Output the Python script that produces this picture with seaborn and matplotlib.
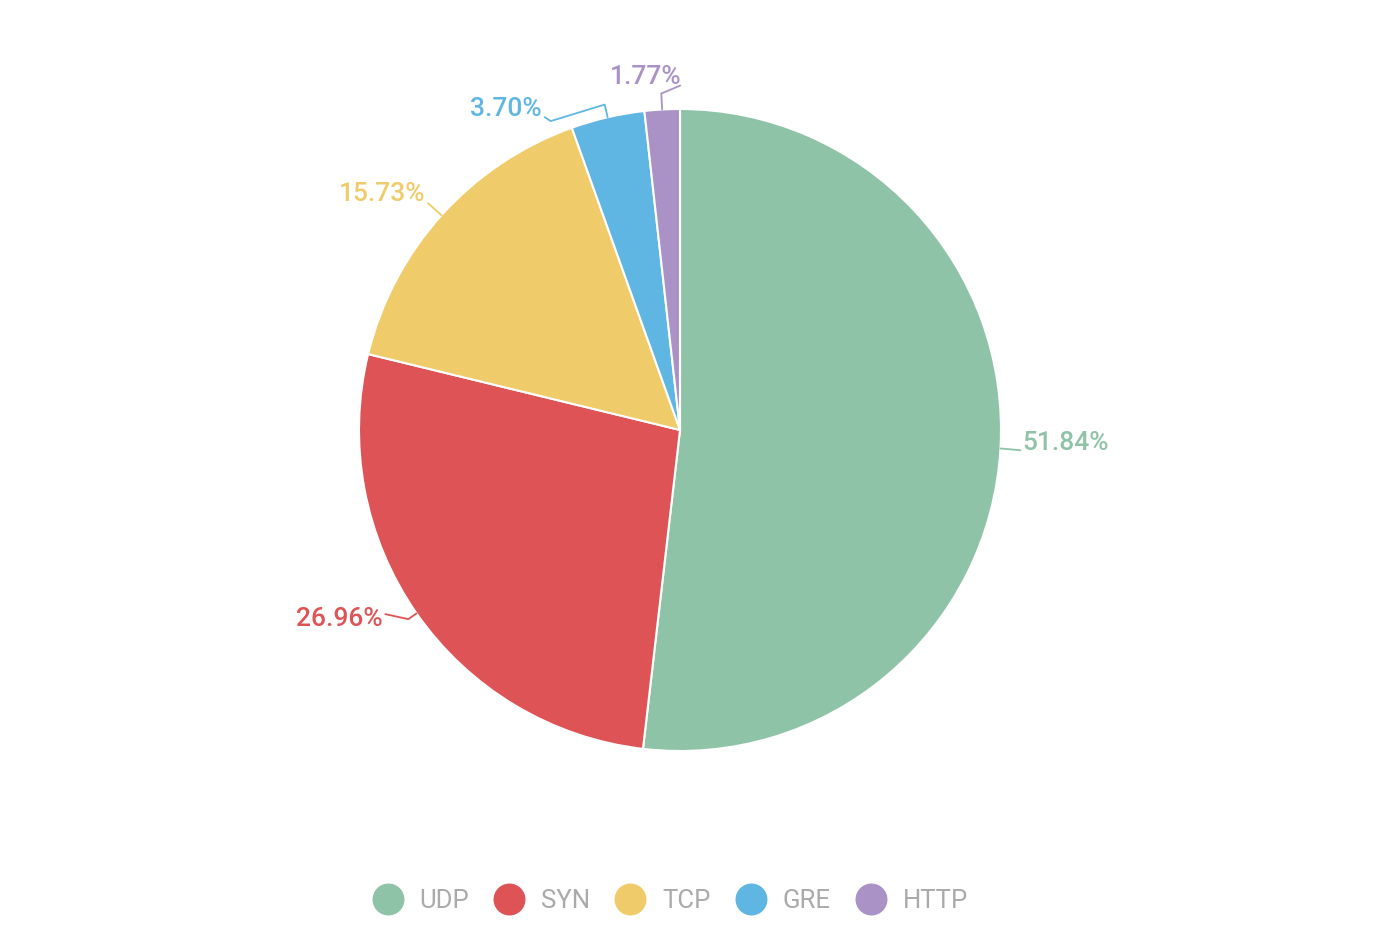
import numpy as np
import matplotlib.pyplot as plt
import seaborn as sns
from matplotlib.lines import Line2D

# chart data
protocols = ['UDP', 'SYN', 'TCP', 'GRE', 'HTTP']
shares = [51.84, 26.96, 15.73, 3.70, 1.77]
colors = ['#8fc3a7', '#de5355', '#efcb69', '#60b6e3', '#aa92c7']

# label layout (screen pixels): radial leader length, extra leader segments,
# text offset from the leader end, alignment
label_layout = [
    (3, [(17, 1.5)], (2, -7), 'left'),
    (10, [(-23, -5)], (-3, 5), 'right'),
    (18, [], (-3, -9), 'right'),
    (13, [(-54, 16.5), (-6, -4)], (-3, -8), 'right'),
    (16, [(19, -8)], (-35, -8.5), 'center'),
]

W, H = 1392, 938
cx, cy, R = 680, 430, 321

sns.set_theme(style='white')
plt.rcParams['font.family'] = ['Roboto', 'DejaVu Sans']

fig = plt.figure(figsize=(W / 100, H / 100), dpi=100)
ax = fig.add_axes([0, 0, 1, 1])

pal = sns.color_palette(colors)
ax.pie(shares, colors=pal, startangle=90, counterclock=False,
       center=(cx, H - cy), radius=R,
       wedgeprops=dict(edgecolor='white', linewidth=1.5))

# leader lines and percentage labels
total = sum(shares)
cum = np.cumsum([0] + shares[:-1])
for i, (val, start) in enumerate(zip(shares, cum)):
    theta = np.deg2rad((start + val / 2) / total * 360)
    L1, segs, toff, ha = label_layout[i]
    sx, sy = np.sin(theta), -np.cos(theta)
    pts = [(cx + R * sx, cy + R * sy), (cx + (R + L1) * sx, cy + (R + L1) * sy)]
    for dx, dy in segs:
        pts.append((pts[-1][0] + dx, pts[-1][1] + dy))
    xs = [p[0] for p in pts]
    ys = [H - p[1] for p in pts]
    ax.plot(xs, ys, color=colors[i], lw=1.3, solid_capstyle='round')
    tx, ty = pts[-1][0] + toff[0], pts[-1][1] + toff[1]
    ax.text(tx, H - ty, f'{val:.2f}%', color=colors[i], fontsize=19,
            fontweight='medium', ha=ha, va='center')

ax.set_xlim(0, W)
ax.set_ylim(0, H)
ax.set_aspect('equal')
ax.axis('off')

handles = [Line2D([0], [0], marker='o', linestyle='none', markersize=22,
                  markerfacecolor=c, markeredgecolor=c) for c in colors]
leg = fig.legend(handles, protocols, loc='center', ncol=5,
                 bbox_to_anchor=(670 / W, 1 - 901 / H), frameon=False,
                 prop={'size': 18.5},
                 handlelength=1.2, handletextpad=0.65,
                 columnspacing=0.95, labelcolor='#aaaaaa')

fig.savefig('out.png', dpi=100, facecolor='white')
